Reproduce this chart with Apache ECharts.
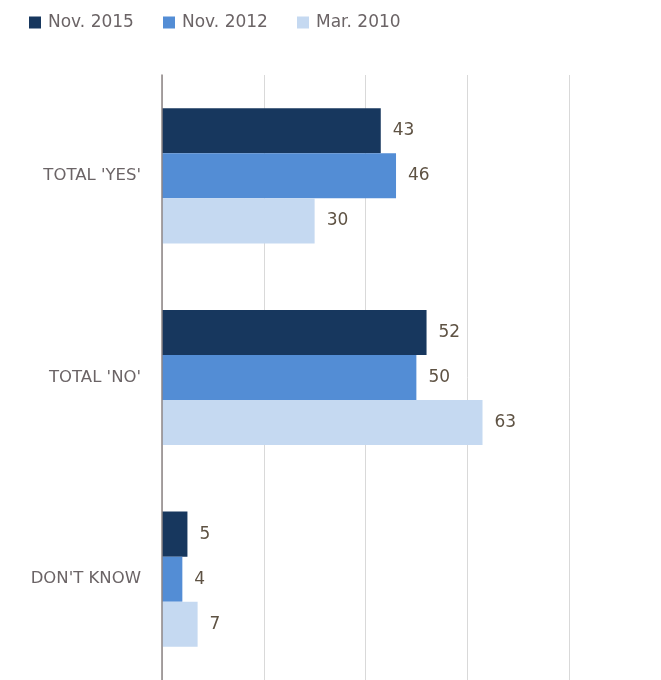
<!DOCTYPE html>
<html>
<head>
<meta charset="utf-8">
<script src="https://cdn.jsdelivr.net/npm/echarts@6/dist/echarts.min.js"></script>
<style>
  html, body { margin: 0; padding: 0; background: #ffffff; }
  #chart { width: 661px; height: 680px; }
</style>
</head>
<body>
<div id="chart"></div>
<script>
// Survey answers by wave (percent)
const categories = ["TOTAL 'YES'", "TOTAL 'NO'", "DON'T KNOW"];
const seriesNames = ['Nov. 2015', 'Nov. 2012', 'Mar. 2010'];
const nov2015 = [43, 52, 5];
const nov2012 = [46, 50, 4];
const mar2010 = [30, 63, 7];
const seriesColors = ['#17375e', '#538dd5', '#c5d9f1'];

const FONT = 'DejaVu Sans';
const values = [nov2015, nov2012, mar2010];
const legendLefts = [29, 163, 297];

const chart = echarts.init(document.getElementById('chart'), null, { renderer: 'canvas' });

chart.setOption({
  animation: false,
  backgroundColor: '#ffffff',
  legend: seriesNames.map((name, i) => ({
    data: [name],
    left: legendLefts[i],
    top: 14,
    padding: 0,
    itemWidth: 12,
    itemHeight: 12,
    itemGap: 6,
    icon: 'rect',
    textStyle: { color: '#6b6466', fontSize: 17, fontFamily: FONT, padding: [0, 0, 0, 2] }
  })),
  grid: { left: 162, width: 407, top: 75, height: 612, containLabel: false },
  xAxis: {
    type: 'value',
    min: 0,
    max: 80,
    interval: 20,
    axisLine: { show: false },
    axisTick: { show: false },
    axisLabel: { show: false },
    splitLine: { show: true, lineStyle: { color: '#d9d9d9', width: 1 } }
  },
  yAxis: {
    type: 'category',
    data: categories,
    inverse: true,
    axisLine: { show: true, lineStyle: { color: '#8c8484', width: 1.5 } },
    axisTick: { show: false },
    axisLabel: { color: '#6b6466', fontSize: 16.5, fontFamily: FONT, margin: 21 },
    z: 5
  },
  series: seriesNames.map((name, i) => ({
    name: name,
    type: 'bar',
    data: values[i],
    itemStyle: { color: seriesColors[i] },
    barGap: '0%',
    barCategoryGap: '33%',
    label: {
      show: true,
      position: 'right',
      distance: 12,
      color: '#5e5243',
      fontSize: 17,
      fontFamily: FONT
    }
  }))
});
</script>
</body>
</html>
